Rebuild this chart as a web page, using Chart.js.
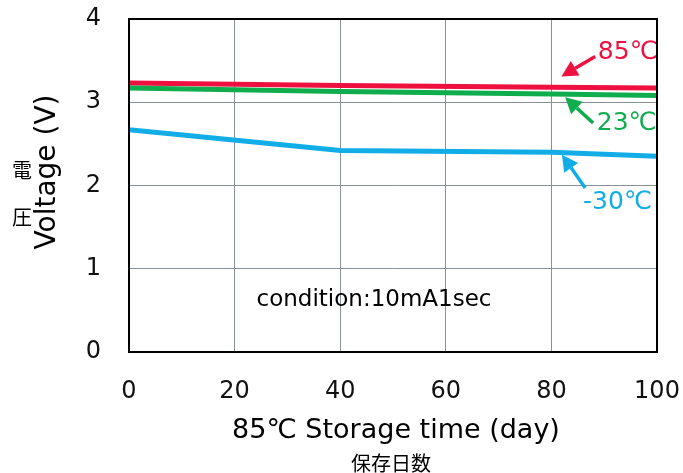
<!DOCTYPE html>
<html>
<head>
<meta charset="utf-8">
<script src="https://cdn.jsdelivr.net/npm/chart.js@4/dist/chart.umd.min.js"></script>
<style>
  html, body { margin: 0; padding: 0; background: #fff; }
  #wrap { width: 683px; height: 473px; }
</style>
</head>
<body>
<div id="wrap"><canvas id="chart" width="683" height="473"></canvas></div>
<script>
// 保存日数 (day)
const days = [0, 40, 80, 100];
// 電圧 (V)
const volt85 = [3.23, 3.20, 3.18, 3.17];
const volt23 = [3.17, 3.13, 3.10, 3.08];
const voltM30 = [2.67, 2.42, 2.40, 2.35];

const xTicks = [0, 20, 40, 60, 80, 100];
const yTicks = [0, 1, 2, 3, 4];

const seriesLabels = ['85℃', '23℃', '-30℃'];
const colors = ['#ee1140', '#10ad4e', '#12ade6'];

// annotation arrows: [label x, label y, tail x, tail y, head x, head y] in data units
const arrows = [
    [88.8, 3.60, 88.3, 3.55, 81.9, 3.31],
    [88.6, 2.75, 87.9, 2.75, 82.6, 3.06],
    [86.0, 1.79, 86.4, 1.97, 82.0, 2.37]
];

const font = 'DejaVu Sans';

const toPoints = (ys) => days.map((d, i) => ({ x: d, y: ys[i] }));

const decorations = {
    id: 'decorations',
    afterDraw(chart) {
        const { ctx, chartArea: a, scales: { x, y } } = chart;
        ctx.save();

        // frame
        ctx.strokeStyle = '#000';
        ctx.lineWidth = 2;
        ctx.strokeRect(a.left, a.top, a.right - a.left, a.bottom - a.top);

        // arrows + series labels
        arrows.forEach((ar, i) => {
            const tx = x.getPixelForValue(ar[2]), ty = y.getPixelForValue(ar[3]);
            const hx = x.getPixelForValue(ar[4]), hy = y.getPixelForValue(ar[5]);
            const ang = Math.atan2(hy - ty, hx - tx);
            const hl = 16, hw = 8.5;
            const bx = hx - hl * Math.cos(ang), by = hy - hl * Math.sin(ang);
            ctx.strokeStyle = colors[i];
            ctx.fillStyle = colors[i];
            ctx.lineWidth = 3.5;
            ctx.beginPath();
            ctx.moveTo(tx, ty);
            ctx.lineTo(bx, by);
            ctx.stroke();
            ctx.beginPath();
            ctx.moveTo(hx, hy);
            ctx.lineTo(bx + hw * Math.sin(ang), by - hw * Math.cos(ang));
            ctx.lineTo(bx - hw * Math.sin(ang), by + hw * Math.cos(ang));
            ctx.closePath();
            ctx.fill();

            ctx.font = `25px "${font}"`;
            ctx.textAlign = 'left';
            ctx.textBaseline = 'middle';
            ctx.fillText(seriesLabels[i], x.getPixelForValue(ar[0]), y.getPixelForValue(ar[1]));
        });

        // condition text
        ctx.fillStyle = '#000';
        ctx.font = `23px "${font}"`;
        ctx.textAlign = 'center';
        ctx.textBaseline = 'middle';
        ctx.fillText('condition:10mA1sec', x.getPixelForValue(46.4), y.getPixelForValue(0.62));

        // axis titles
        ctx.font = `27px "${font}"`;
        ctx.fillText('85℃ Storage time (day)', (a.left + a.right) / 2 + 3, 431);
        ctx.font = '20px "Noto Sans CJK JP"';
        ctx.fillText('保存日数', 391, 463);
        ctx.fillText('電', 22, 170);
        ctx.fillText('圧', 22, 217);

        ctx.save();
        ctx.translate(48, 172);
        ctx.rotate(-Math.PI / 2);
        ctx.font = `28px "${font}"`;
        ctx.fillText('Voltage (V)', 0, 0);
        ctx.restore();

        ctx.restore();
    }
};

new Chart(document.getElementById('chart'), {
    type: 'line',
    data: {
        datasets: [
            { label: seriesLabels[2], data: toPoints(voltM30), borderColor: colors[2] },
            { label: seriesLabels[1], data: toPoints(volt23), borderColor: colors[1] },
            { label: seriesLabels[0], data: toPoints(volt85), borderColor: colors[0] }
        ].map(ds => ({ ...ds, borderWidth: 5, pointRadius: 0, tension: 0, fill: false }))
    },
    options: {
        responsive: false,
        animation: false,
        layout: { padding: { left: 0, right: 26, top: 19, bottom: 0 } },
        plugins: { legend: { display: false }, tooltip: { enabled: false } },
        scales: {
            x: {
                type: 'linear',
                min: 0,
                max: 100,
                afterBuildTicks: (s) => { s.ticks = xTicks.map(v => ({ value: v })); },
                afterFit: (s) => { s.height = 121; s.paddingLeft = 0; s.paddingRight = 0; },
                grid: { color: '#8a9097', lineWidth: 1, drawTicks: false },
                border: { color: '#000', width: 2 },
                ticks: { padding: 25, color: '#111', font: { family: font, size: 24 } }
            },
            y: {
                min: 0,
                max: 4,
                afterBuildTicks: (s) => { s.ticks = yTicks.map(v => ({ value: v })); },
                afterFit: (s) => { s.width = 129; s.paddingTop = 0; s.paddingBottom = 0; },
                grid: { color: '#8a9097', lineWidth: 1, drawTicks: false },
                border: { color: '#000', width: 2 },
                ticks: { padding: 28, color: '#111', font: { family: font, size: 24 } }
            }
        }
    },
    plugins: [decorations]
});
</script>
</body>
</html>
